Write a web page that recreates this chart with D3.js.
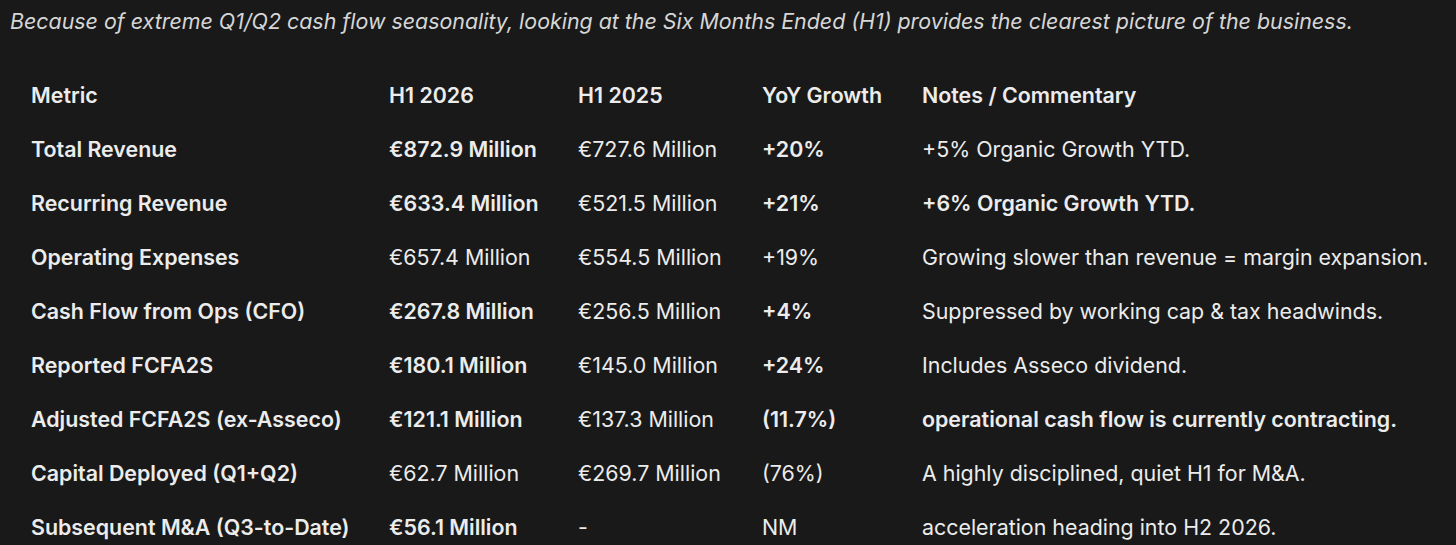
<!DOCTYPE html>
<html>
<head>
<meta charset="utf-8">
<script src="https://cdn.jsdelivr.net/npm/d3@7"></script>
<style>
  html, body { margin: 0; padding: 0; background: #191919; }
  svg { display: block; }
</style>
</head>
<body>
<div id="main"></div>
<script>
const subtitle = 'Because of extreme Q1/Q2 cash flow seasonality, looking at the Six Months Ended (H1) provides the clearest picture of the business.';

const columns = ['Metric', 'H1 2026', 'H1 2025', 'YoY Growth', 'Notes / Commentary'];

const metrics = [
  'Total Revenue',
  'Recurring Revenue',
  'Operating Expenses',
  'Cash Flow from Ops (CFO)',
  'Reported FCFA2S',
  'Adjusted FCFA2S (ex-Asseco)',
  'Capital Deployed (Q1+Q2)',
  'Subsequent M&A (Q3-to-Date)'
];

const h1_2026 = ['€872.9 Million', '€633.4 Million', '€657.4 Million', '€267.8 Million',
  '€180.1 Million', '€121.1 Million', '€62.7 Million', '€56.1 Million'];

const h1_2025 = ['€727.6 Million', '€521.5 Million', '€554.5 Million', '€256.5 Million',
  '€145.0 Million', '€137.3 Million', '€269.7 Million', '-'];

const yoyGrowth = ['+20%', '+21%', '+19%', '+4%', '+24%', '(11.7%)', '(76%)', 'NM'];

const notes = [
  '+5% Organic Growth YTD.',
  '+6% Organic Growth YTD.',
  'Growing slower than revenue = margin expansion.',
  'Suppressed by working cap & tax headwinds.',
  'Includes Asseco dividend.',
  'operational cash flow is currently contracting.',
  'A highly disciplined, quiet H1 for M&A.',
  'acceleration heading into H2 2026.'
];

// which cells are set in bold (per column)
const bold2026 = [true, true, false, true, true, true, false, true];
const boldYoy = [true, true, false, true, true, true, false, false];
const boldNotes = [false, true, false, false, false, true, false, false];

const width = 1456, height = 545;
const fontFamily = 'Inter, "Noto Sans", sans-serif';

const svg = d3.select('#main').append('svg')
    .attr('width', width)
    .attr('height', height);

svg.append('rect')
    .attr('width', width)
    .attr('height', height)
    .attr('fill', '#191919');

svg.append('text')
    .attr('x', 10)
    .attr('y', 29)
    .attr('fill', '#d6d6d6')
    .attr('font-family', fontFamily)
    .attr('font-style', 'italic')
    .attr('font-size', 21.4)
    .text(subtitle);

const y = d3.scaleBand()
    .domain(['header', ...metrics])
    .range([68, 554]);

const x = d3.scaleOrdinal()
    .domain(columns)
    .range([31, 389, 578, 762, 922]);

const rows = metrics.map((m, i) => [
  {col: 'Metric', text: m, bold: true},
  {col: 'H1 2026', text: h1_2026[i], bold: bold2026[i]},
  {col: 'H1 2025', text: h1_2025[i], bold: false},
  {col: 'YoY Growth', text: yoyGrowth[i], bold: boldYoy[i]},
  {col: 'Notes / Commentary', text: notes[i], bold: boldNotes[i]}
].map(c => ({...c, row: m})));

const cells = [
  ...columns.map(c => ({col: c, text: c, bold: true, row: 'header'})),
  ...rows.flat()
];

svg.append('g')
  .selectAll('text')
  .data(cells)
  .join('text')
    .attr('x', d => x(d.col))
    .attr('y', d => y(d.row) + y.bandwidth() / 2)
    .attr('dy', '0.36em')
    .attr('fill', '#ececec')
    .attr('font-family', fontFamily)
    .attr('font-size', 21.4)
    .attr('font-weight', d => d.bold ? 600 : 400)
    .text(d => d.text);
</script>
</body>
</html>
